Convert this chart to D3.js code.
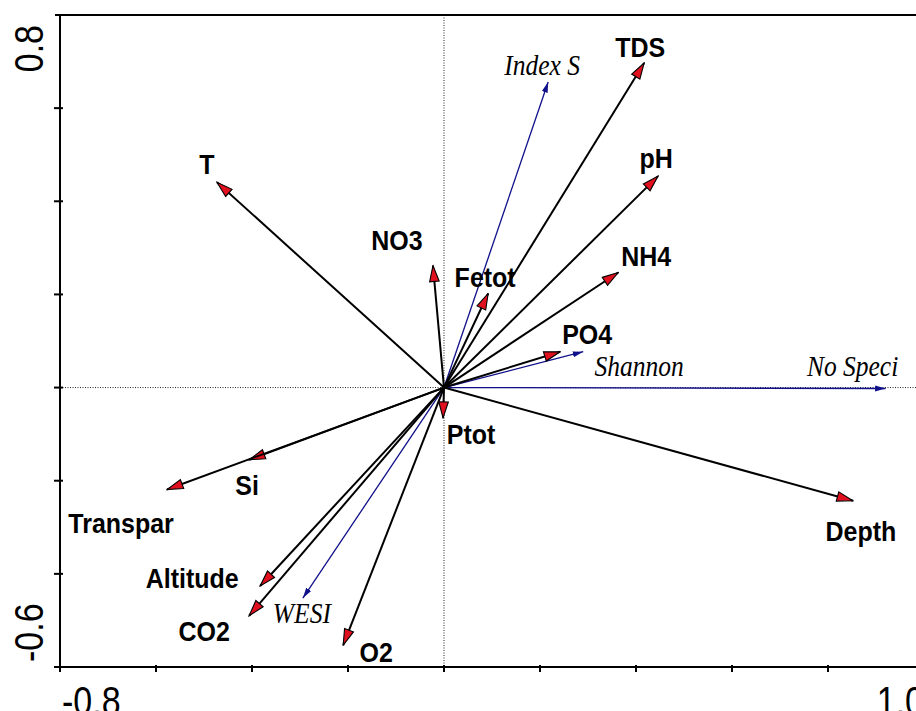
<!DOCTYPE html>
<html>
<head>
<meta charset="utf-8">
<script src="https://cdn.jsdelivr.net/npm/d3@7"></script>
<style>
  html, body { margin: 0; padding: 0; background: #fff; overflow: hidden; }
  svg { display: block; }
</style>
</head>
<body>
<svg id="chart" width="916" height="711"></svg>
<script>
// Environmental variables (black arrows): axis 1 and axis 2 scores
const envNames = ["T", "TDS", "pH", "NH4", "PO4", "Fetot", "NO3", "Ptot", "Depth", "Si", "Transpar", "Altitude", "CO2", "O2"];
const envX = [-0.473, 0.417, 0.446, 0.363, 0.242, 0.092, -0.023, -0.002, 0.852, -0.406, -0.577, -0.383, -0.406, -0.210];
const envY = [0.441, 0.697, 0.454, 0.247, 0.077, 0.202, 0.262, -0.065, -0.243, -0.155, -0.219, -0.426, -0.490, -0.553];

// Community indices (blue arrows)
const idxNames = ["Index S", "Shannon", "No Speci", "WESI"];
const idxX = [0.217, 0.290, 0.920, -0.294];
const idxY = [0.656, 0.077, -0.002, -0.452];

// Axis ranges and tick values
const xTicks = [-0.8, -0.6, -0.4, -0.2, 0, 0.2, 0.4, 0.6, 0.8, 1.0];
const yTicks = [-0.6, -0.4, -0.2, 0, 0.2, 0.4, 0.6, 0.8];
const xTickLabels = ["-0.8", "1.0"];
const yTickLabels = ["-0.6", "0.8"];

// Label placement relative to each arrow tip, in pixels [dx, dy]
const envLabelOffset = {
  "T": [-10, -8], "TDS": [-4, -6], "pH": [-2, -8], "NH4": [28, -7], "PO4": [27, -8],
  "Fetot": [-3, -6], "NO3": [-36, -16], "Ptot": [28, 26], "Depth": [8, 40], "Si": [-2, 35],
  "Transpar": [-46, 43], "Altitude": [-68, 2], "CO2": [-45, 25], "O2": [33, 17]
};
const idxLabelOffset = {
  "Index S": [-6, -7], "Shannon": [56, 24], "No Speci": [-33, -13], "WESI": [-1, 25]
};

const svg = d3.select("#chart");
const x = d3.scaleLinear().domain([-0.8, 1.0]).range([60, 924]);
const y = d3.scaleLinear().domain([-0.6, 0.8]).range([667, 15]);

const defs = svg.append("defs");
defs.append("marker")
  .attr("id", "headEnv")
  .attr("markerUnits", "userSpaceOnUse")
  .attr("viewBox", "0 0 18 12")
  .attr("refX", 17).attr("refY", 6)
  .attr("markerWidth", 18).attr("markerHeight", 12)
  .attr("orient", "auto")
  .append("path")
  .attr("d", "M1,1.2 L17,6 L1,10.8 Z")
  .attr("fill", "#e0101e")
  .attr("stroke", "#000")
  .attr("stroke-width", 1.1)
  .attr("stroke-linejoin", "miter");

defs.append("marker")
  .attr("id", "headIdx")
  .attr("markerUnits", "userSpaceOnUse")
  .attr("viewBox", "0 0 11 8")
  .attr("refX", 10.5).attr("refY", 4)
  .attr("markerWidth", 11).attr("markerHeight", 8)
  .attr("orient", "auto")
  .append("path")
  .attr("d", "M0,1 L10.5,4 L0,7 Z")
  .attr("fill", "#10108a");

// Dotted zero lines
svg.append("line")
  .attr("x1", x(0)).attr("x2", x(0))
  .attr("y1", y(0.8)).attr("y2", y(-0.6))
  .attr("stroke", "#222").attr("stroke-width", 1)
  .attr("stroke-dasharray", "1,1.5");
svg.append("line")
  .attr("x1", x(-0.8)).attr("x2", x(1.0))
  .attr("y1", y(0)).attr("y2", y(0))
  .attr("stroke", "#222").attr("stroke-width", 1)
  .attr("stroke-dasharray", "1,1.5");

// Frame lines: left axis, bottom axis, top border
const axisG = svg.append("g").attr("stroke", "#000").attr("stroke-width", 2);
axisG.append("line").attr("x1", x(-0.8)).attr("x2", x(-0.8)).attr("y1", y(0.8)).attr("y2", y(-0.6) + 3);
axisG.append("line").attr("x1", x(-0.8)).attr("x2", x(1.0)).attr("y1", y(-0.6)).attr("y2", y(-0.6));
axisG.append("line").attr("x1", x(-0.8) - 5).attr("x2", x(1.0)).attr("y1", y(0.8)).attr("y2", y(0.8));

// Ticks crossing the axes
axisG.selectAll(".xt").data(xTicks).enter().append("line")
  .attr("x1", d => x(d)).attr("x2", d => x(d))
  .attr("y1", y(-0.6) - 2).attr("y2", y(-0.6) + 5);
axisG.selectAll(".yt").data(yTicks.filter(d => d < 0.8)).enter().append("line")
  .attr("x1", x(-0.8) - 6).attr("x2", x(-0.8) + 3)
  .attr("y1", d => y(d)).attr("y2", d => y(d));

// Axis end labels
const numFont = "'Liberation Sans', Arial, sans-serif";
svg.append("text")
  .attr("transform", `translate(${x(-0.8) + 2},715) scale(0.85,1)`)
  .attr("text-anchor", "start")
  .attr("font-family", numFont).attr("font-size", 40).attr("fill", "#000")
  .text(xTickLabels[0]);
svg.append("text")
  .attr("transform", `translate(${x(1.0)},715) scale(0.85,1)`)
  .attr("text-anchor", "end")
  .attr("font-family", numFont).attr("font-size", 40).attr("fill", "#000")
  .text(xTickLabels[1]);
svg.append("text")
  .attr("transform", `translate(43,${y(-0.6) - 5}) rotate(-90) scale(0.85,1)`)
  .attr("text-anchor", "start")
  .attr("font-family", numFont).attr("font-size", 40).attr("fill", "#000")
  .text(yTickLabels[0]);
svg.append("text")
  .attr("transform", `translate(43,${y(0.8) + 10}) rotate(-90) scale(0.85,1)`)
  .attr("text-anchor", "end")
  .attr("font-family", numFont).attr("font-size", 40).attr("fill", "#000")
  .text(yTickLabels[1]);

const env = envNames.map((n, i) => ({ name: n, x: envX[i], y: envY[i] }));
const idx = idxNames.map((n, i) => ({ name: n, x: idxX[i], y: idxY[i] }));

// Blue index arrows
svg.append("g").selectAll("line").data(idx).enter().append("line")
  .attr("x1", x(0)).attr("y1", y(0))
  .attr("x2", d => x(d.x)).attr("y2", d => y(d.y))
  .attr("stroke", "#10108a").attr("stroke-width", 1.3)
  .attr("marker-end", "url(#headIdx)");

// Black environmental arrows
svg.append("g").selectAll("line").data(env).enter().append("line")
  .attr("x1", x(0)).attr("y1", y(0))
  .attr("x2", d => x(d.x)).attr("y2", d => y(d.y))
  .attr("stroke", "#000").attr("stroke-width", 2)
  .attr("marker-end", "url(#headEnv)");

// Labels
svg.append("g").selectAll("text").data(env).enter().append("text")
  .attr("transform", d => {
    const o = envLabelOffset[d.name];
    return `translate(${x(d.x) + o[0]},${y(d.y) + o[1]}) scale(1,1.12)`;
  })
  .attr("text-anchor", "middle")
  .attr("font-family", numFont).attr("font-weight", "bold")
  .attr("font-size", 25).attr("fill", "#000")
  .text(d => d.name);

svg.append("g").selectAll("text").data(idx).enter().append("text")
  .attr("transform", d => {
    const o = idxLabelOffset[d.name];
    return `translate(${x(d.x) + o[0]},${y(d.y) + o[1]}) scale(1,1.15)`;
  })
  .attr("text-anchor", "middle")
  .attr("font-family", "'Liberation Serif', 'Times New Roman', serif")
  .attr("font-style", "italic")
  .attr("font-size", 25.5).attr("fill", "#000")
  .text(d => d.name);
</script>
</body>
</html>
